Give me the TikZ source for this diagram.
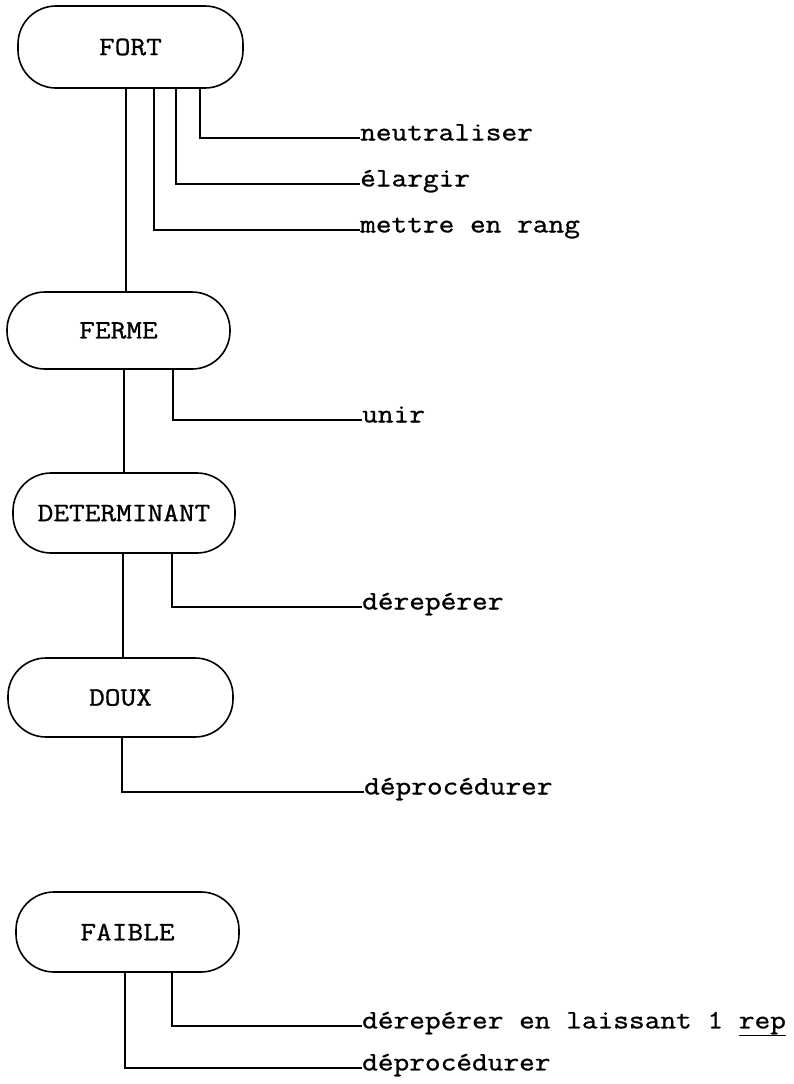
\documentclass[tikz,border=0pt]{standalone}
\usepackage{fontspec}
\setmainfont{Latin Modern Mono}[FakeStretch=1.15,FakeBold=1]
\begin{document}
\begin{tikzpicture}[x=1pt,y=-1pt,
  every node/.style={font=\fontsize{26.5}{30}\selectfont},
  pill/.style={draw,line width=1.6pt,rectangle,rounded corners=38pt,minimum width=223pt,minimum height=80pt,inner sep=0pt},
  lab/.style={anchor=west,inner sep=0pt,text height=1.1ex,text depth=0pt},
  conn/.style={line width=1.6pt}]
\useasboundingbox (0,0) rectangle (793,1084);
% boxes
\node[pill,minimum width=225pt,minimum height=82pt] (fort) at (130.5,47) {FORT};
\node[pill,minimum height=77pt] (ferme) at (118.5,330.5) {FERME};
\node[pill,minimum width=222pt] (det) at (124,513) {DETERMINANT};
\node[pill,minimum width=225pt,minimum height=79pt] (doux) at (120.5,697.5) {DOUX};
\node[pill] (faible) at (127.5,932) {FAIBLE};
% labels
\node[lab] (l1) at (360,138) {neutraliser};
\node[lab] (l2) at (360,184) {élargir};
\node[lab] (l3) at (360,230) {mettre en rang};
\node[lab] (l4) at (362,420) {unir};
\node[lab] (l5) at (362,607) {dérepérer};
\node[lab] (l6) at (364,792) {déprocédurer};
\node[lab] (l7) at (362,1026) {dérepérer en laissant 1 \underline{rep}};
\node[lab] (l8) at (362,1068) {déprocédurer};
% x positions of connectors
\coordinate (a1) at (126,0);
\coordinate (a2) at (154,0);
\coordinate (a3) at (176,0);
\coordinate (a4) at (200,0);
\coordinate (b1) at (124,0);
\coordinate (b2) at (173,0);
\coordinate (c1) at (123,0);
\coordinate (c2) at (172,0);
\coordinate (d1) at (122,0);
\coordinate (e1) at (125,0);
\coordinate (e2) at (172,0);
% connectors
\draw[conn] (fort.south -| a1) -- (ferme.north -| a1);
\draw[conn] (fort.south -| a2) |- (l3.west);
\draw[conn] (fort.south -| a3) |- (l2.west);
\draw[conn] (fort.south -| a4) |- (l1.west);
\draw[conn] (ferme.south -| b1) -- (det.north -| b1);
\draw[conn] (ferme.south -| b2) |- (l4.west);
\draw[conn] (det.south -| c1) -- (doux.north -| c1);
\draw[conn] (det.south -| c2) |- (l5.west);
\draw[conn] (doux.south -| d1) |- (l6.west);
\draw[conn] (faible.south -| e2) |- (l7.west);
\draw[conn] (faible.south -| e1) |- (l8.west);
\end{tikzpicture}
\end{document}
